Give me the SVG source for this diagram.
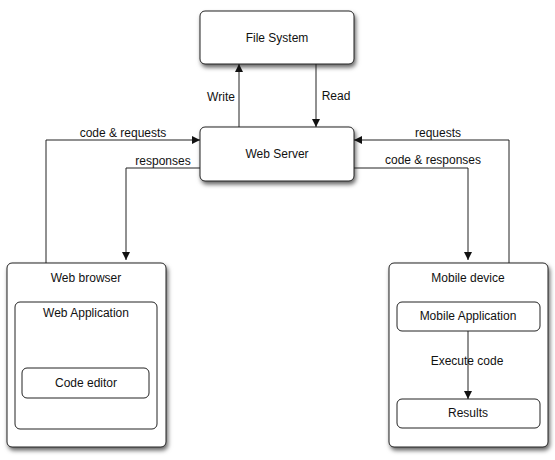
<svg xmlns="http://www.w3.org/2000/svg" width="555" height="460" viewBox="0 0 555 460">
<defs>
<style>
.box{fill:#fff;stroke:#222;stroke-width:1}
.sh{filter:url(#ds)}
.t{font-family:"Liberation Sans",Arial,sans-serif;font-size:12px;fill:#111;text-anchor:middle}
.l{font-family:"Liberation Sans",Arial,sans-serif;font-size:12px;fill:#111;text-anchor:middle}
.c{fill:none;stroke:#222;stroke-width:1}
</style>
<filter id="ds" x="-10%" y="-10%" width="125%" height="130%">
<feDropShadow dx="1.5" dy="3" stdDeviation="2" flood-color="#000" flood-opacity="0.6"/>
</filter>
<marker id="ah" viewBox="0 0 10 10" refX="10" refY="5" markerWidth="8" markerHeight="8" markerUnits="userSpaceOnUse" orient="auto">
<path d="M0,0 L10,5 L0,10 z" fill="#111"/>
</marker>
</defs>
<rect width="555" height="460" fill="#fff"/>
<g id="file-system"><rect class="box sh" x="200" y="11" width="154" height="53" rx="5"/><text class="t" x="277" y="42">File System</text></g>
<g id="web-server"><rect class="box sh" x="200" y="127" width="154" height="54" rx="5"/><text class="t" x="277" y="158">Web Server</text></g>
<g id="web-browser"><rect class="box sh" x="7" y="263" width="159" height="184" rx="5"/><text class="t" x="86" y="282">Web browser</text>
<g id="web-application"><rect class="box" x="15" y="302" width="142" height="127" rx="5"/><text class="t" x="86" y="317">Web Application</text></g>
<g id="code-editor"><rect class="box" x="22" y="368" width="127" height="30" rx="5"/><text class="t" x="86" y="387">Code editor</text></g></g>
<g id="mobile-device"><rect class="box sh" x="389" y="263" width="159" height="184" rx="5"/><text class="t" x="468" y="282">Mobile device</text>
<g id="mobile-application"><rect class="box" x="397" y="302" width="143" height="29" rx="5"/><text class="t" x="468" y="320">Mobile Application</text></g>
<g id="results"><rect class="box" x="397" y="399" width="143" height="29" rx="5"/><text class="t" x="468" y="417">Results</text></g></g>
<g id="connectors">
<path class="c" d="M239,127 V64" marker-end="url(#ah)"/>
<path class="c" d="M316,64 V127" marker-end="url(#ah)"/>
<path class="c" d="M46,263 V140 H200" marker-end="url(#ah)"/>
<path class="c" d="M200,168 H126 V260" marker-end="url(#ah)"/>
<path class="c" d="M509,263 V140 H354" marker-end="url(#ah)"/>
<path class="c" d="M354,168 H468 V260" marker-end="url(#ah)"/>
<path class="c" d="M468,331 V399" marker-end="url(#ah)"/>
<text class="l" x="221" y="101">Write</text>
<text class="l" x="336" y="100">Read</text>
<text class="l" x="123" y="137">code &amp; requests</text>
<text class="l" x="163" y="165">responses</text>
<text class="l" x="438" y="137">requests</text>
<text class="l" x="433" y="164">code &amp; responses</text>
<text class="l" x="467" y="365">Execute code</text>
</g>
</svg>
